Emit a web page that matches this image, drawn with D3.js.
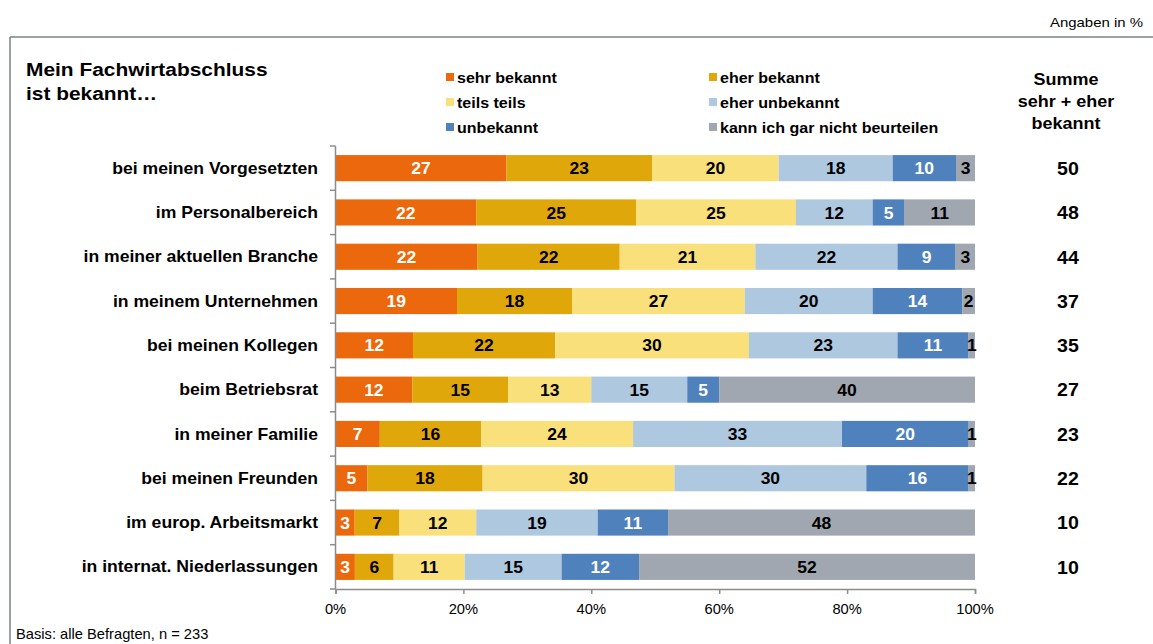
<!DOCTYPE html>
<html>
<head>
<meta charset="utf-8">
<script src="https://cdn.jsdelivr.net/npm/d3@7"></script>
<style>
  html, body { margin: 0; padding: 0; background: #fff; }
  svg { display: block; font-family: "Liberation Sans", Arial, sans-serif; }
</style>
</head>
<body>
<svg id="chart" width="1153" height="644"></svg>
<script>
const categories = [
  "bei meinen Vorgesetzten",
  "im Personalbereich",
  "in meiner aktuellen Branche",
  "in meinem Unternehmen",
  "bei meinen Kollegen",
  "beim Betriebsrat",
  "in meiner Familie",
  "bei meinen Freunden",
  "im europ. Arbeitsmarkt",
  "in internat. Niederlassungen"
];
const seriesNames = ["sehr bekannt", "eher bekannt", "teils teils", "eher unbekannt", "unbekannt", "kann ich gar nicht beurteilen"];
const sehrBekannt   = [27, 22, 22, 19, 12, 12, 7, 5, 3, 3];
const eherBekannt   = [23, 25, 22, 18, 22, 15, 16, 18, 7, 6];
const teilsTeils    = [20, 25, 21, 27, 30, 13, 24, 30, 12, 11];
const eherUnbekannt = [18, 12, 22, 20, 23, 15, 33, 30, 19, 15];
const unbekannt     = [10, 5, 9, 14, 11, 5, 20, 16, 11, 12];
const kannNicht     = [3, 11, 3, 2, 1, 40, 1, 1, 48, 52];
const summe         = [50, 48, 44, 37, 35, 27, 23, 22, 10, 10];
const xTicks        = [0, 20, 40, 60, 80, 100];

const seriesValues = [sehrBekannt, eherBekannt, teilsTeils, eherUnbekannt, unbekannt, kannNicht];
const colors = ["#EB690C", "#E0A70A", "#F9E07A", "#AEC8E0", "#4F81BD", "#A0A7B0"];
const labelColors = ["#fff", "#000", "#000", "#000", "#fff", "#000"];

const svg = d3.select("#chart");

function txt(parent, x, y, s, o) {
  o = o || {};
  const t = parent.append("text")
    .attr("transform", `translate(${x},${y}) scale(${o.sx || 1},1)`)
    .attr("font-size", o.size || 14)
    .attr("font-weight", o.weight || "normal")
    .attr("fill", o.fill || "#000")
    .attr("text-anchor", o.anchor || "start")
    .text(s);
  if (o.dy) t.attr("dy", o.dy);
  return t;
}

// frame
svg.append("line").attr("x1", 10).attr("y1", 37).attr("x2", 1153).attr("y2", 37)
  .attr("stroke", "#7a8087").attr("stroke-width", 1.5);
svg.append("line").attr("x1", 10).attr("y1", 37).attr("x2", 10).attr("y2", 644)
  .attr("stroke", "#7a8087").attr("stroke-width", 1.5);

txt(svg, 1143, 27, "Angaben in %", {size: 13, sx: 1.15, anchor: "end"});

// title
txt(svg, 26, 76, "Mein Fachwirtabschluss", {size: 19, weight: "bold", sx: 1.1});
txt(svg, 26, 100, "ist bekannt…", {size: 19, weight: "bold", sx: 1.1});

// header right
[["Summe", 85], ["sehr + eher", 107], ["bekannt", 129]].forEach(([s, y]) =>
  txt(svg, 1066, y, s, {size: 17, weight: "bold", sx: 1.06, anchor: "middle"}));

// legend
const legX = [446, 709];
const legY = [78, 103, 128];
seriesNames.forEach((name, i) => {
  const lx = legX[i % 2], ly = legY[Math.floor(i / 2)];
  svg.append("rect").attr("x", lx).attr("y", ly - 5).attr("width", 8).attr("height", 8).attr("fill", colors[i]);
  txt(svg, lx + 11, ly, name, {size: 15, weight: "bold", sx: 1.07, dy: "0.35em"});
});

// scales
const x = d3.scaleLinear().domain([0, 100]).range([335.5, 975]);
const y = d3.scaleBand().domain(categories).range([146, 589]).paddingInner(0.41).paddingOuter(0.205);

// stacked data (normalised to 100%)
const rows = categories.map((c, i) => {
  const vals = seriesValues.map(s => s[i]);
  const total = d3.sum(vals);
  let acc = 0;
  return vals.map((v, k) => {
    const x0 = acc / total * 100;
    acc += v;
    return {cat: c, k, v, x0, x1: acc / total * 100};
  });
});

const barG = svg.append("g");
rows.forEach(segs => {
  segs.forEach(d => {
    barG.append("rect")
      .attr("x", x(d.x0)).attr("y", y(d.cat))
      .attr("width", x(d.x1) - x(d.x0)).attr("height", y.bandwidth())
      .attr("fill", colors[d.k]);
  });
});
rows.forEach(segs => {
  segs.forEach(d => {
    txt(barG, (x(d.x0) + x(d.x1)) / 2, y(d.cat) + y.bandwidth() / 2, d.v,
      {size: 17, weight: "bold", sx: 1.03, anchor: "middle", fill: labelColors[d.k], dy: "0.36em"});
  });
});

// y axis line + ticks at band boundaries
const axisColor = "#8c8c8c";
svg.append("line").attr("x1", 335.5).attr("x2", 335.5).attr("y1", 146).attr("y2", 589)
  .attr("stroke", axisColor).attr("stroke-width", 1.5);
const step = y.step();
const bounds = categories.map(c => y(c) - (step - y.bandwidth()) / 2).concat([589]);
bounds.forEach(b => {
  svg.append("line").attr("x1", 330).attr("x2", 335.5).attr("y1", b).attr("y2", b)
    .attr("stroke", axisColor).attr("stroke-width", 1.5);
});

// category labels
categories.forEach(c => {
  txt(svg, 318, y(c) + y.bandwidth() / 2, c, {size: 16, weight: "bold", sx: 1.1, anchor: "end", dy: "0.35em"});
});

// x axis
const xAxisG = svg.append("g").attr("transform", "translate(0,589)")
  .call(d3.axisBottom(x).tickValues(xTicks).tickSize(5).tickFormat(d => d + "%"));
xAxisG.select(".domain").attr("stroke", axisColor).attr("stroke-width", 1.5);
xAxisG.selectAll(".tick line").attr("stroke", axisColor).attr("stroke-width", 1.5);
xAxisG.selectAll(".tick text").remove();
xTicks.forEach(t => txt(svg, x(t), 614, t + "%", {size: 14, sx: 1.05, anchor: "middle"}));

// Summe column
categories.forEach((c, i) => {
  txt(svg, 1068, y(c) + y.bandwidth() / 2, summe[i], {size: 19, weight: "bold", sx: 1.03, anchor: "middle", dy: "0.36em"});
});

txt(svg, 16, 639, "Basis: alle Befragten, n = 233", {size: 14, sx: 1.05});
</script>
</body>
</html>
